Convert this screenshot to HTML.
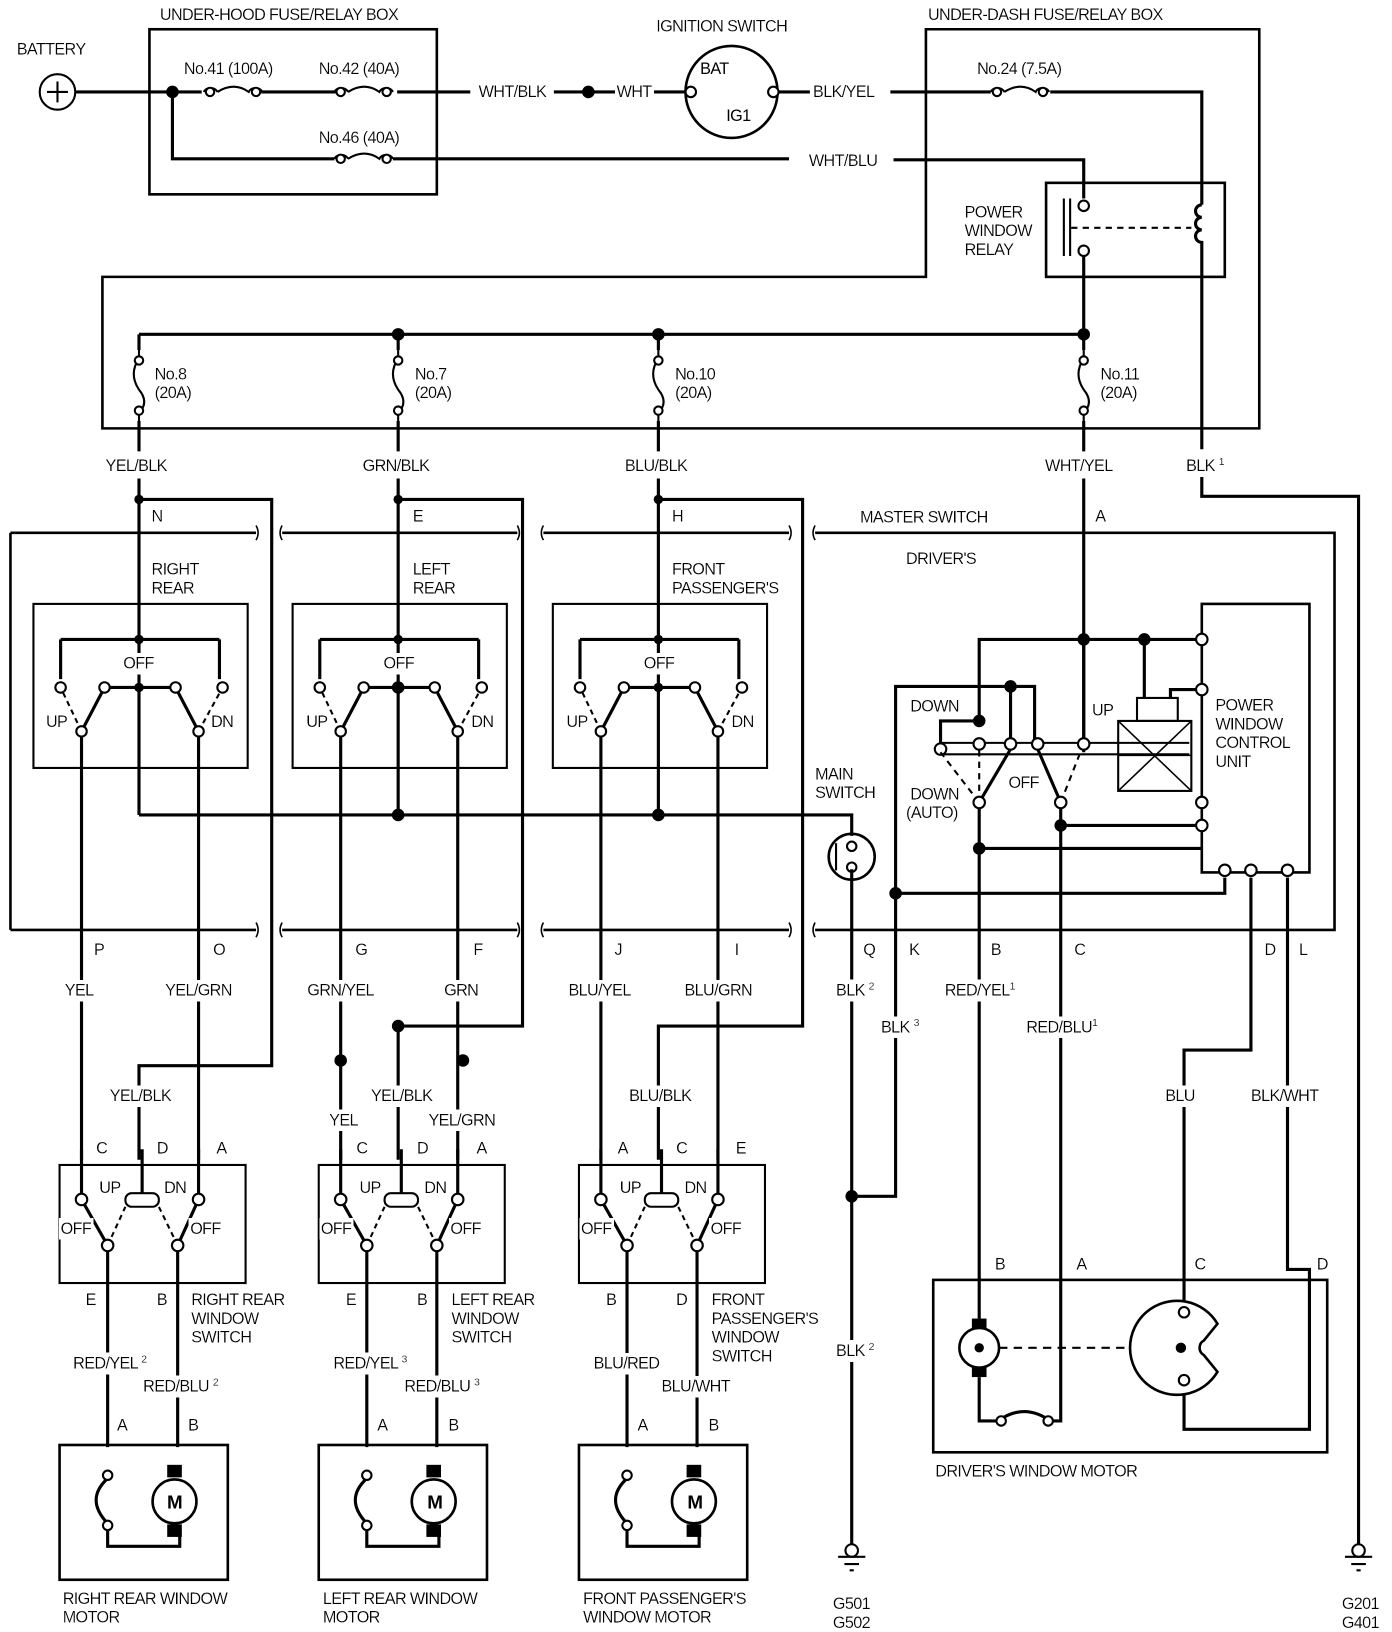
<!DOCTYPE html>
<html><head><meta charset="utf-8"><style>
html,body{margin:0;padding:0;background:#fff}
svg{display:block}
text{font-family:"Liberation Sans",sans-serif;font-size:15.5px;fill:#000;letter-spacing:-0.6px}
g.lbl text{filter:url(#bg)}
</style></head><body>
<svg width="1392" height="1632" viewBox="0 0 1332 1562" preserveAspectRatio="none" xmlns="http://www.w3.org/2000/svg">
<defs>
<filter id="bg" x="-0.04" y="-0.08" width="1.08" height="1.16"><feFlood flood-color="#fff"/><feComposite in="SourceGraphic" operator="over"/></filter>
<g id="fuseH"><path d="M0,0 a7,6 0 0 1 13,0 M13,0 q16,-10 30,0 a7,6 0 0 1 13,0" fill="none"/><circle cx="6" cy="0" r="4" fill="#fff"/><circle cx="50" cy="0" r="4" fill="#fff"/></g>
<g id="fuseV"><path d="M0,0 v8 M0,8 q-10,15 0,30 M0,38 q10,12 0,22 v8" fill="none"/><circle cx="0" cy="10" r="4" fill="#fff"/><circle cx="0" cy="58" r="4" fill="#fff"/></g>
<g id="sub">
<rect x="32" y="578" width="205" height="157" fill="none" stroke-width="2"/>
<path d="M133,478 V780 M58,612 H210 M58,612 V650 M210,612 V650 M100,658 H168 M78,700 L100,658 M190,700 L168,658 M78,700 V1110 M190,700 V1110"/>
<path d="M78,700 L58,658 M190,700 L213,658" stroke-dasharray="5,4" stroke-width="2"/>
<circle cx="58" cy="658" r="5" fill="#fff" stroke-width="2"/><circle cx="213" cy="658" r="5" fill="#fff" stroke-width="2"/>
<circle cx="100" cy="658" r="5" fill="#fff" stroke-width="2"/><circle cx="168" cy="658" r="5" fill="#fff" stroke-width="2"/>
<circle cx="78" cy="700" r="5" fill="#fff" stroke-width="2"/><circle cx="190" cy="700" r="5" fill="#fff" stroke-width="2"/>
<circle cx="133" cy="612" r="4.5" fill="#000" stroke="none"/><circle cx="133" cy="658" r="4.5" fill="#000" stroke="none"/><circle cx="133" cy="478" r="4.5" fill="#000" stroke="none"/>
</g>
<g id="wsw">
<rect x="57" y="1115" width="178" height="113" fill="none" stroke-width="2"/>
<rect x="120" y="1142" width="32" height="13" rx="6" fill="#fff" stroke-width="2"/>
<path d="M78,1100 V1148 M136,1100 V1142 M190,1100 V1148 M78,1148 L103,1192 M190,1148 L170,1192 M103,1192 V1385 M170,1192 V1385"/>
<path d="M103,1192 L120,1155 M170,1192 L152,1155" stroke-dasharray="5,4" stroke-width="2"/>
<circle cx="78" cy="1148" r="5.5" fill="#fff" stroke-width="2"/><circle cx="190" cy="1148" r="5.5" fill="#fff" stroke-width="2"/>
<circle cx="103" cy="1192" r="5.5" fill="#fff" stroke-width="2"/><circle cx="170" cy="1192" r="5.5" fill="#fff" stroke-width="2"/>
<rect x="57" y="1383" width="161" height="129" fill="none" stroke-width="2.5"/>
<path d="M103,1415 q-22,20 0,43 M103,1458 V1480 H172 V1460" fill="none"/>
<circle cx="103" cy="1412" r="4.5" fill="#fff" stroke-width="2"/><circle cx="103" cy="1460" r="4.5" fill="#fff" stroke-width="2"/>
<rect x="160" y="1402" width="14" height="12" fill="#000" stroke="none"/><rect x="160" y="1459" width="14" height="12" fill="#000" stroke="none"/>
<circle cx="167" cy="1437" r="21" fill="#fff" stroke-width="2.5"/>
</g>
</defs>
<g stroke="#000" stroke-width="3" fill="none" stroke-linejoin="miter">
<circle cx="55" cy="88" r="17" stroke-width="2"/><path d="M45,88 H65 M55,78 V98" stroke-width="2"/>
<path d="M72,88 H193 M250,88 H323 M380,88 H450 M530,88 H590 M625,88 H656 M745,88 H775 M852,88 H948 M1005,88 H1150 V190"/>
<circle cx="165" cy="88" r="4.5" fill="#000"/><circle cx="563" cy="88" r="4.5" fill="#000"/>
<use href="#fuseH" x="195" y="88" stroke-width="2"/><use href="#fuseH" x="320" y="88" stroke-width="2"/><use href="#fuseH" x="948" y="88" stroke-width="2"/>
<path d="M165,88 V152 H320 M376,152 H755 M855,153 H1037 V190"/>
<use href="#fuseH" x="320" y="152" stroke-width="2"/>
<rect x="143" y="28" width="275" height="158" stroke-width="2.5"/>
<circle cx="700" cy="88" r="44" stroke-width="2.5"/>
<circle cx="661" cy="88" r="5" fill="#fff" stroke-width="2"/><circle cx="740" cy="88" r="5" fill="#fff" stroke-width="2"/>
<path d="M886,28 H1205 V410 H98 V265 H886 Z" stroke-width="2.5"/>
<rect x="1001" y="175" width="171" height="90" stroke-width="2.5"/>
<path d="M1018,190 V245 M1024,190 V245" stroke-width="2"/>
<path d="M1025,218 H1140" stroke-dasharray="6,5" stroke-width="2"/>
<circle cx="1037" cy="197" r="5" fill="#fff" stroke-width="2"/><circle cx="1037" cy="240" r="5" fill="#fff" stroke-width="2"/>
<path d="M1150,190 V196 m0,0 a6,6 0 1 0 0,12 a6,6 0 1 0 0,12 a6,6 0 1 0 0,12 V250 V430 M1150,455 V475 H1300 V1478" stroke-width="3"/>
<path d="M1037,245 V320 M133,320 H1037 M133,320 V335 M381,320 V335 M630,320 V335 M1037,320 V335"/>
<circle cx="381" cy="320" r="4.5" fill="#000"/><circle cx="630" cy="320" r="4.5" fill="#000"/><circle cx="1037" cy="320" r="4.5" fill="#000"/>
<use href="#fuseV" x="133" y="335" stroke-width="2"/><use href="#fuseV" x="381" y="335" stroke-width="2"/><use href="#fuseV" x="630" y="335" stroke-width="2"/><use href="#fuseV" x="1037" y="335" stroke-width="2"/>
<path d="M133,403 V432 M381,403 V432 M630,403 V432 M1037,403 V432 M133,458 V478 M381,458 V478 M630,458 V478 M1037,458 V720"/>
<path d="M133,478 H260 V1020 H133 V1110 M381,478 H500 V982 H381 V1110 M630,478 H768 V982 H630 V1110"/>
<circle cx="381" cy="982" r="4.5" fill="#000"/>
<path d="M10,510 H245 M270,510 H495 M520,510 H755 M780,510 H1277 V890 H780 M755,890 H520 M495,890 H270 M245,890 H10 Z" stroke-width="2.5"/>
<path d="M10,510 V890" stroke-width="2.5"/>
<path d="M245,503 q4,7 0,14 M270,503 q-4,7 0,14 M495,503 q4,7 0,14 M520,503 q-4,7 0,14 M755,503 q4,7 0,14 M780,503 q-4,7 0,14 M245,883 q4,7 0,14 M270,883 q-4,7 0,14 M495,883 q4,7 0,14 M520,883 q-4,7 0,14 M755,883 q4,7 0,14 M780,883 q-4,7 0,14" stroke-width="1.5"/>
<use href="#sub"/><use href="#sub" x="248"/><use href="#sub" x="497"/>
<path d="M133,780 H815 V800"/>
<circle cx="381" cy="780" r="4.5" fill="#000"/><circle cx="630" cy="780" r="4.5" fill="#000"/><circle cx="381" cy="658" r="4.5" fill="#000"/>
<circle cx="815" cy="820" r="22" stroke-width="2.5"/>
<path d="M800,807 V833" stroke-width="2"/>
<circle cx="815" cy="810" r="4.5" fill="#fff" stroke-width="2"/><circle cx="815" cy="830" r="4.5" fill="#fff" stroke-width="2"/>
<path d="M815,832 V1478"/>
<circle cx="815" cy="1145" r="4.5" fill="#000"/>
<circle cx="326" cy="1015" r="4.5" fill="#000"/><circle cx="443" cy="1015" r="4.5" fill="#000"/>
<use href="#wsw"/><use href="#wsw" x="248"/><use href="#wsw" x="497"/>
<rect x="1150" y="578" width="103" height="257" stroke-width="2.5"/>
<path d="M937,690 V612 H1150 M1095,612 V668 M1150,660 H1120 V668 M1037,612 V712"/>
<circle cx="1037" cy="612" r="4.5" fill="#000"/><circle cx="1095" cy="612" r="4.5" fill="#000"/>
<rect x="1088" y="668" width="39" height="22" stroke-width="2"/>
<rect x="1070" y="690" width="70" height="67" stroke-width="2"/>
<path d="M1070,690 L1140,757 M1140,690 L1070,757 M1070,723 H1140" stroke-width="1.5"/>
<path d="M900,711 H1138 M900,722 H1138" stroke-width="2"/>
<path d="M857,890 V657 H990 V710 M967,657 V710 M937,690 H900 V715"/>
<circle cx="967" cy="657" r="4.5" fill="#000"/><circle cx="937" cy="690" r="4.5" fill="#000"/>
<circle cx="900" cy="717" r="5.5" fill="#fff" stroke-width="2"/><circle cx="937" cy="712" r="5.5" fill="#fff" stroke-width="2"/><circle cx="967" cy="712" r="5.5" fill="#fff" stroke-width="2"/><circle cx="993" cy="712" r="5.5" fill="#fff" stroke-width="2"/><circle cx="1037" cy="712" r="5.5" fill="#fff" stroke-width="2"/>
<path d="M937,768 L967,717 M1015,768 L993,717"/>
<path d="M937,768 V717 M937,768 L900,720 M1015,768 L1035,717" stroke-dasharray="6,5" stroke-width="2"/>
<circle cx="937" cy="768" r="5.5" fill="#fff" stroke-width="2"/><circle cx="1015" cy="768" r="5.5" fill="#fff" stroke-width="2"/>
<path d="M937,774 V1262 M1015,774 V1360 H1005 M937,812 H1150 M1015,790 H1150"/>
<circle cx="937" cy="812" r="4.5" fill="#000"/><circle cx="1015" cy="790" r="4.5" fill="#000"/>
<path d="M857,890 V1145 H815 M857,855 H1172 V840"/>
<circle cx="857" cy="855" r="4.5" fill="#000"/>
<circle cx="1150" cy="612" r="5.5" fill="#fff" stroke-width="2"/><circle cx="1150" cy="660" r="5.5" fill="#fff" stroke-width="2"/><circle cx="1150" cy="768" r="5.5" fill="#fff" stroke-width="2"/><circle cx="1150" cy="790" r="5.5" fill="#fff" stroke-width="2"/>
<path d="M1197,840 V1005 H1133 V1250 M1232,840 V1215 H1253 V1368 H1133 V1326"/>
<circle cx="1172" cy="833" r="5.5" fill="#fff" stroke-width="2"/><circle cx="1197" cy="833" r="5.5" fill="#fff" stroke-width="2"/><circle cx="1232" cy="833" r="5.5" fill="#fff" stroke-width="2"/>
<rect x="893" y="1225" width="377" height="165" stroke-width="2.5"/>
<rect x="930" y="1262" width="14" height="10" fill="#000" stroke="none"/><rect x="930" y="1308" width="14" height="10" fill="#000" stroke="none"/>
<circle cx="937" cy="1290" r="19" fill="#fff" stroke-width="2.5"/><circle cx="937" cy="1290" r="3" fill="#000"/>
<path d="M956,1290 H1128" stroke-dasharray="8,6" stroke-width="2"/>
<path d="M937,1318 V1360 H955 M955,1360 q25,-18 50,0" stroke-width="3"/>
<circle cx="958" cy="1360" r="4.5" fill="#fff" stroke-width="2"/><circle cx="1003" cy="1360" r="4.5" fill="#fff" stroke-width="2"/>
<path d="M1165,1267 A45,45 0 1 0 1165,1313 L1152,1297 A8,8 0 0 1 1152,1283 Z" stroke-width="2.5" fill="#fff"/>
<circle cx="1133" cy="1256" r="5" fill="#fff" stroke-width="2"/><circle cx="1130" cy="1290" r="3.5" fill="#000"/><circle cx="1133" cy="1321" r="5" fill="#fff" stroke-width="2"/>
<circle cx="815" cy="1484" r="6" fill="#fff" stroke-width="2"/><path d="M802,1490 H828 M808,1497 H822 M813,1503 H817" stroke-width="2"/>
<circle cx="1300" cy="1484" r="6" fill="#fff" stroke-width="2"/><path d="M1287,1490 H1313 M1293,1497 H1307 M1298,1503 H1302" stroke-width="2"/>
</g>
<g>
<text x="167" y="1444" text-anchor="middle" style="font-weight:bold;font-size:18px">M</text>
<text x="416" y="1444" text-anchor="middle" style="font-weight:bold;font-size:18px">M</text>
<text x="665" y="1444" text-anchor="middle" style="font-weight:bold;font-size:18px">M</text>
<text x="670" y="71">BAT</text>
<text x="695" y="116">IG1</text>
</g>
<g class="lbl">
<text x="16" y="52">BATTERY</text>
<text x="153" y="19">UNDER-HOOD FUSE/RELAY BOX</text>
<text x="628" y="30">IGNITION SWITCH</text>
<text x="888" y="19">UNDER-DASH FUSE/RELAY BOX</text>
<text x="176" y="71">No.41 (100A)</text>
<text x="305" y="71">No.42 (40A)</text>
<text x="305" y="137">No.46 (40A)</text>
<text x="935" y="71">No.24 (7.5A)</text>
<text x="458" y="93">WHT/BLK</text>
<text x="590" y="93">WHT</text>
<text x="778" y="93">BLK/YEL</text>
<text x="774" y="159">WHT/BLU</text>
<text x="923" y="208">POWER</text>
<text x="923" y="226">WINDOW</text>
<text x="923" y="244">RELAY</text>
<text x="148" y="363">No.8</text><text x="148" y="381">(20A)</text>
<text x="397" y="363">No.7</text><text x="397" y="381">(20A)</text>
<text x="646" y="363">No.10</text><text x="646" y="381">(20A)</text>
<text x="1053" y="363">No.11</text><text x="1053" y="381">(20A)</text>
<text x="101" y="451">YEL/BLK</text>
<text x="347" y="451">GRN/BLK</text>
<text x="598" y="451">BLU/BLK</text>
<text x="1000" y="451">WHT/YEL</text>
<text x="1135" y="451">BLK <tspan font-size="10" dy="-6">1</tspan></text>
<text x="145" y="499">N</text><text x="395" y="499">E</text><text x="643" y="499">H</text><text x="1048" y="499">A</text>
<text x="823" y="500">MASTER SWITCH</text>
<text x="867" y="540">DRIVER'S</text>
<text x="145" y="550">RIGHT</text><text x="145" y="568">REAR</text>
<text x="395" y="550">LEFT</text><text x="395" y="568">REAR</text>
<text x="643" y="550">FRONT</text><text x="643" y="568">PASSENGER'S</text>
<text x="118" y="640">OFF</text><text x="367" y="640">OFF</text><text x="616" y="640">OFF</text>
<text x="44" y="696">UP</text><text x="202" y="696">DN</text>
<text x="293" y="696">UP</text><text x="451" y="696">DN</text>
<text x="542" y="696">UP</text><text x="700" y="696">DN</text>
<text x="780" y="746">MAIN</text><text x="780" y="764">SWITCH</text>
<text x="871" y="681">DOWN</text>
<text x="1045" y="685">UP</text>
<text x="871" y="765">DOWN</text><text x="867" y="783">(AUTO)</text>
<text x="965" y="754">OFF</text>
<text x="1163" y="680">POWER</text><text x="1163" y="698">WINDOW</text><text x="1163" y="716">CONTROL</text><text x="1163" y="734">UNIT</text>
<text x="90" y="914">P</text><text x="204" y="914">O</text><text x="340" y="914">G</text><text x="453" y="914">F</text><text x="588" y="914">J</text><text x="703" y="914">I</text>
<text x="826" y="914">Q</text><text x="870" y="914">K</text><text x="948" y="914">B</text><text x="1028" y="914">C</text><text x="1210" y="914">D</text><text x="1243" y="914">L</text>
<text x="62" y="953">YEL</text><text x="158" y="953">YEL/GRN</text>
<text x="294" y="953">GRN/YEL</text><text x="425" y="953">GRN</text>
<text x="544" y="953">BLU/YEL</text><text x="655" y="953">BLU/GRN</text>
<text x="800" y="953">BLK <tspan font-size="10" dy="-6">2</tspan></text>
<text x="843" y="988">BLK <tspan font-size="10" dy="-6">3</tspan></text>
<text x="904" y="953">RED/YEL<tspan font-size="10" dy="-6">1</tspan></text>
<text x="982" y="988">RED/BLU<tspan font-size="10" dy="-6">1</tspan></text>
<text x="1115" y="1054">BLU</text><text x="1197" y="1054">BLK/WHT</text>
<text x="105" y="1054">YEL/BLK</text><text x="355" y="1054">YEL/BLK</text><text x="602" y="1054">BLU/BLK</text>
<text x="315" y="1077">YEL</text><text x="410" y="1077">YEL/GRN</text>
<text x="92" y="1104">C</text><text x="150" y="1104">D</text><text x="207" y="1104">A</text>
<text x="341" y="1104">C</text><text x="399" y="1104">D</text><text x="456" y="1104">A</text>
<text x="591" y="1104">A</text><text x="647" y="1104">C</text><text x="704" y="1104">E</text>
<text x="95" y="1142">UP</text><text x="157" y="1142">DN</text>
<text x="344" y="1142">UP</text><text x="406" y="1142">DN</text>
<text x="593" y="1142">UP</text><text x="655" y="1142">DN</text>
<text x="58" y="1181">OFF</text><text x="182" y="1181">OFF</text>
<text x="307" y="1181">OFF</text><text x="431" y="1181">OFF</text>
<text x="556" y="1181">OFF</text><text x="680" y="1181">OFF</text>
<text x="82" y="1249">E</text><text x="150" y="1249">B</text>
<text x="331" y="1249">E</text><text x="399" y="1249">B</text>
<text x="580" y="1249">B</text><text x="647" y="1249">D</text>
<text x="183" y="1249">RIGHT REAR</text><text x="183" y="1267">WINDOW</text><text x="183" y="1285">SWITCH</text>
<text x="432" y="1249">LEFT REAR</text><text x="432" y="1267">WINDOW</text><text x="432" y="1285">SWITCH</text>
<text x="681" y="1249">FRONT</text><text x="681" y="1267">PASSENGER'S</text><text x="681" y="1285">WINDOW</text><text x="681" y="1303">SWITCH</text>
<text x="70" y="1310">RED/YEL <tspan font-size="10" dy="-6">2</tspan></text>
<text x="137" y="1332">RED/BLU <tspan font-size="10" dy="-6">2</tspan></text>
<text x="319" y="1310">RED/YEL <tspan font-size="10" dy="-6">3</tspan></text>
<text x="387" y="1332">RED/BLU <tspan font-size="10" dy="-6">3</tspan></text>
<text x="568" y="1310">BLU/RED</text><text x="633" y="1332">BLU/WHT</text>
<text x="800" y="1298">BLK <tspan font-size="10" dy="-6">2</tspan></text>
<text x="112" y="1369">A</text><text x="180" y="1369">B</text>
<text x="361" y="1369">A</text><text x="429" y="1369">B</text>
<text x="610" y="1369">A</text><text x="678" y="1369">B</text>
<text x="952" y="1215">B</text><text x="1030" y="1215">A</text><text x="1143" y="1215">C</text><text x="1260" y="1215">D</text>
<text x="895" y="1413">DRIVER'S WINDOW MOTOR</text>
<text x="60" y="1535">RIGHT REAR WINDOW</text><text x="60" y="1553">MOTOR</text>
<text x="309" y="1535">LEFT REAR WINDOW</text><text x="309" y="1553">MOTOR</text>
<text x="558" y="1535">FRONT PASSENGER'S</text><text x="558" y="1553">WINDOW MOTOR</text>
<text x="797" y="1540">G501</text><text x="797" y="1558">G502</text>
<text x="1284" y="1540">G201</text><text x="1284" y="1558">G401</text>
</g>
</svg>
</body></html>
